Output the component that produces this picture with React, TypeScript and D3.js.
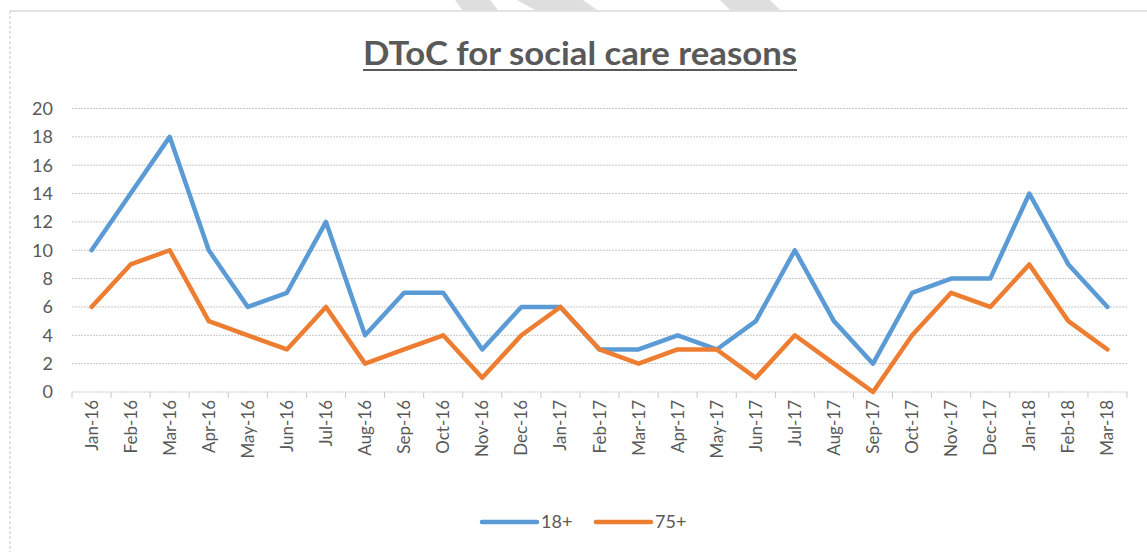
import React from "react";
import * as d3 from "d3";

const categories = [
  "Jan-16","Feb-16","Mar-16","Apr-16","May-16","Jun-16","Jul-16","Aug-16","Sep-16","Oct-16","Nov-16","Dec-16",
  "Jan-17","Feb-17","Mar-17","Apr-17","May-17","Jun-17","Jul-17","Aug-17","Sep-17","Oct-17","Nov-17","Dec-17",
  "Jan-18","Feb-18","Mar-18",
];
const series18 = [10,14,18,10,6,7,12,4,7,7,3,6,6,3,3,4,3,5,10,5,2,7,8,8,14,9,6];
const series75 = [6,9,10,5,4,3,6,2,3,4,1,4,6,3,2,3,3,1,4,2,0,4,7,6,9,5,3];
const yTicks = [0,2,4,6,8,10,12,14,16,18,20];
const seriesNames = ["18+", "75+"];
const colors = ["#5B9BD5", "#ED7D31"];

const W = 1147, H = 552;
const left = 72, right = 1127, top = 108.5, bottom = 392;
const FONT = "Lato, 'Open Sans', sans-serif";

export default function App() {
  const x = d3.scaleBand<string>().domain(categories).range([left, right]);
  const y = d3.scaleLinear().domain([0, 20]).range([bottom, top]);
  const line = d3.line<number>()
    .x((_, i) => (x(categories[i]) as number) + x.bandwidth() / 2)
    .y((d) => y(d));
  const data = [series18, series75];
  const boundaries = d3.range(categories.length + 1).map((i) => left + i * x.step());

  return (
    <svg width={W} height={H} style={{ position: "absolute", left: 0, top: 0, background: "#fff" }} fontFamily={FONT}>
      <rect x={0} y={0} width={W} height={H} fill="#fff" />
      {/* watermark fragments */}
      <polygon points="455,0 490,0 498,10 462,10" fill="#dedede" />
      <polygon points="517,0 583,0 597,10 535,10" fill="#dedede" />
      <polygon points="720,0 770,0 780,10 730,10" fill="#dedede" />
      {/* chart border */}
      <line x1={10} y1={11} x2={W} y2={11} stroke="#d9d9d9" strokeWidth={1.5} />
      <line x1={10} y1={11} x2={10} y2={H} stroke="#d9d9d9" strokeWidth={1.5} strokeDasharray="3,2" />
      {/* title */}
      <text x={363} y={65} textLength={434} lengthAdjust="spacingAndGlyphs" fontSize={33} fontWeight="bold" fill="#595959">
        DToC for social care reasons
      </text>
      <line x1={363} x2={797} y1={70} y2={70} stroke="#595959" strokeWidth={2} />
      {/* gridlines */}
      {yTicks.filter((t) => t > 0).map((t) => (
        <line key={t} x1={left} x2={right} y1={y(t)} y2={y(t)} stroke="#c8c8c8" strokeWidth={1} strokeDasharray="2,1" />
      ))}
      {yTicks.map((t) => (
        <text key={"yl" + t} x={53} y={y(t)} dy="0.35em" textAnchor="end" fontSize={18} fill="#595959">
          {t}
        </text>
      ))}
      {/* x axis */}
      <line x1={left} x2={right} y1={bottom} y2={bottom} stroke="#c8c8c8" strokeWidth={1} strokeDasharray="2,1" />
      {boundaries.map((b, i) => (
        <line key={"tk" + i} x1={b} x2={b} y1={bottom} y2={bottom + 6} stroke="#c8c8c8" strokeWidth={1} />
      ))}
      {categories.map((c) => {
        const cx = (x(c) as number) + x.bandwidth() / 2;
        return (
          <text key={c} transform={`translate(${cx + 6},${bottom + 8}) rotate(-90)`} textAnchor="end" fontSize={17} fill="#595959">
            {c}
          </text>
        );
      })}
      {/* lines */}
      {data.map((s, i) => (
        <path key={i} d={line(s) as string} fill="none" stroke={colors[i]} strokeWidth={4.5} strokeLinejoin="round" strokeLinecap="round" />
      ))}
      {/* legend */}
      {seriesNames.map((n, i) => {
        const lx = 482 + i * 114;
        return (
          <g key={n}>
            <line x1={lx} x2={lx + 55} y1={522} y2={522} stroke={colors[i]} strokeWidth={4.5} strokeLinecap="round" />
            <text x={lx + 59} y={522} dy="0.35em" fontSize={18} fill="#595959">{n}</text>
          </g>
        );
      })}
    </svg>
  );
}
